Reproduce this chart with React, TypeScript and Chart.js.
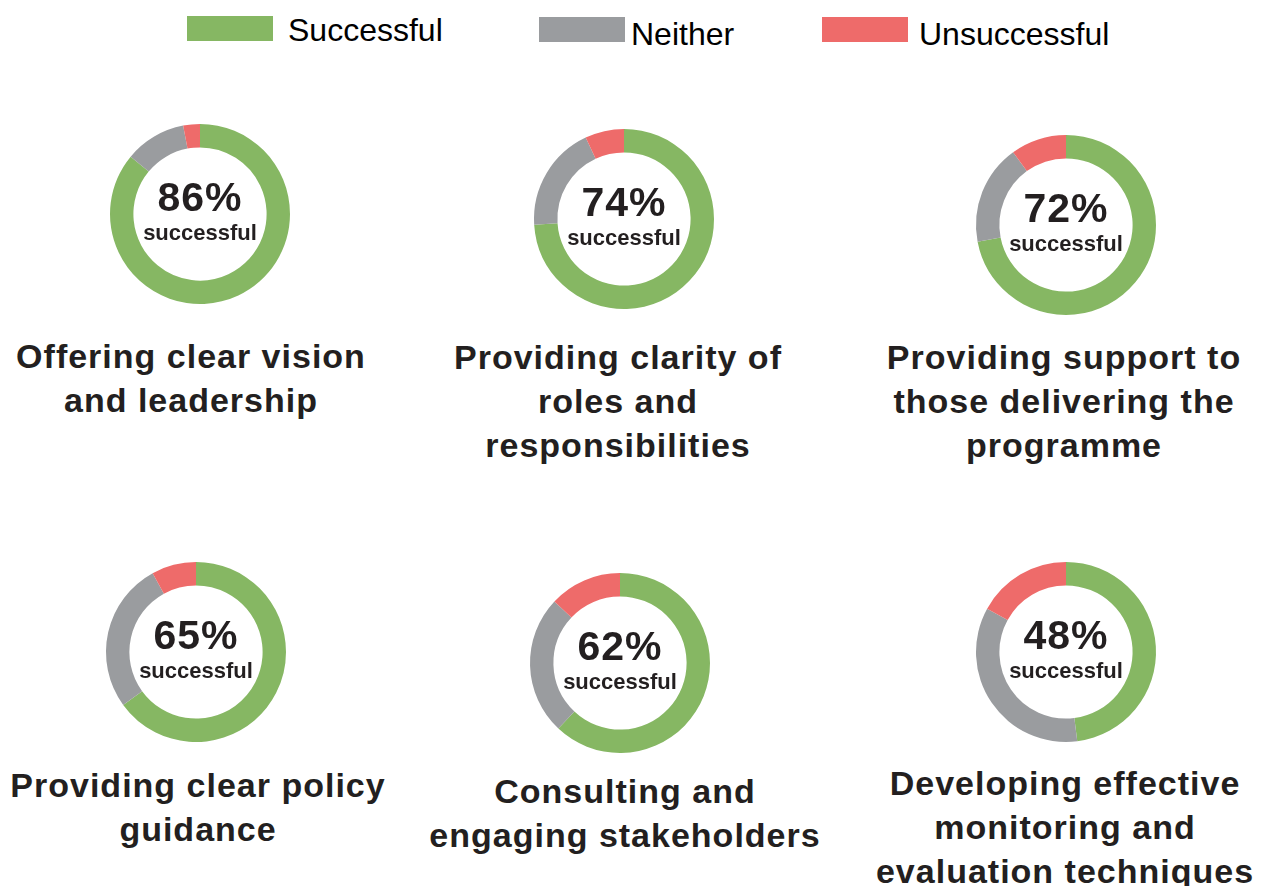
import React, { useEffect, useRef } from "react";
import { Chart, registerables } from "chart.js";

Chart.register(...registerables);

// ---- Data ----
const seriesNames = ["Successful", "Neither", "Unsuccessful"];
const categories = [
  "Offering clear vision\nand leadership",
  "Providing clarity of\nroles and\nresponsibilities",
  "Providing support to\nthose delivering the\nprogramme",
  "Providing clear policy\nguidance",
  "Consulting and\nengaging stakeholders",
  "Developing effective\nmonitoring and\nevaluation techniques",
];
const successful = [86, 74, 72, 65, 62, 48];
const neither = [11, 19, 18, 27, 25, 35];
const unsuccessful = [3, 7, 10, 8, 13, 17];
const centerCaption = "successful";

// ---- Styling / layout ----
const colors = ["#86B763", "#9A9C9F", "#EE6B6A"];
const textColor = "#231F20";
const fontFamily = "'Liberation Sans', Arial, Helvetica, sans-serif";

const donutCenters = [
  { cx: 199.5, cy: 213.5, titleX: 191, titleTop: 334 },
  { cx: 623.5, cy: 219, titleX: 618, titleTop: 335 },
  { cx: 1066, cy: 224.5, titleX: 1064, titleTop: 335 },
  { cx: 195.5, cy: 651.5, titleX: 198, titleTop: 763 },
  { cx: 620, cy: 662.5, titleX: 625, titleTop: 769 },
  { cx: 1066, cy: 651.5, titleX: 1065, titleTop: 761 },
];

const legendLayout = [
  { boxLeft: 187, boxTop: 16, textLeft: 288, textTop: 14 },
  { boxLeft: 539, boxTop: 17, textLeft: 631, textTop: 17.5 },
  { boxLeft: 822, boxTop: 17, textLeft: 919, textTop: 17.5 },
];

const centerTextPlugin = {
  id: "centerText",
  afterDraw(chart: any, _args: any, opts: any) {
    const { ctx, chartArea } = chart;
    const x = (chartArea.left + chartArea.right) / 2;
    const y = (chartArea.top + chartArea.bottom) / 2;
    ctx.save();
    ctx.fillStyle = textColor;
    ctx.textAlign = "center";
    ctx.textBaseline = "alphabetic";
    ctx.font = `bold 41px ${fontFamily}`;
    try { (ctx as any).letterSpacing = "1px"; } catch (e) {}
    ctx.fillText(opts.big, x, y - 3);
    try { (ctx as any).letterSpacing = "0px"; } catch (e) {}
    ctx.font = `bold 22px ${fontFamily}`;
    ctx.fillText(opts.small, x, y + 26);
    ctx.restore();
  },
};

function Donut({ i }: { i: number }) {
  const ref = useRef<HTMLCanvasElement | null>(null);
  const pos = donutCenters[i];
  useEffect(() => {
    if (!ref.current) return;
    const chart = new Chart(ref.current, {
      type: "doughnut",
      data: {
        labels: seriesNames,
        datasets: [
          {
            data: [successful[i], neither[i], unsuccessful[i]],
            backgroundColor: colors,
            borderWidth: 0,
            radius: 90,
            cutout: 74,
          } as any,
        ],
      },
      options: {
        responsive: false,
        animation: false,
        events: [],
        layout: { padding: 0 },
        plugins: {
          legend: { display: false },
          tooltip: { enabled: false },
          centerText: { big: `${successful[i]}%`, small: centerCaption },
        } as any,
      },
      plugins: [centerTextPlugin],
    });
    return () => chart.destroy();
  }, [i]);
  return (
    <canvas
      ref={ref}
      width={200}
      height={200}
      style={{ position: "absolute", left: pos.cx - 100, top: pos.cy - 100, width: 200, height: 200 }}
    />
  );
}

export default function App() {
  return (
    <div
      style={{
        position: "absolute",
        left: 0,
        top: 0,
        width: 1269,
        height: 886,
        background: "#ffffff",
        overflow: "hidden",
        fontFamily,
        color: textColor,
      }}
    >
      {seriesNames.map((name, k) => (
        <React.Fragment key={name}>
          <div
            style={{
              position: "absolute",
              left: legendLayout[k].boxLeft,
              top: legendLayout[k].boxTop,
              width: 86,
              height: 25,
              background: colors[k],
            }}
          />
          <div
            style={{
              position: "absolute",
              left: legendLayout[k].textLeft,
              top: legendLayout[k].textTop,
              fontSize: 32,
              lineHeight: "32px",
              whiteSpace: "pre",
              color: "#000",
            }}
          >
            {name}
          </div>
        </React.Fragment>
      ))}
      {categories.map((title, i) => (
        <React.Fragment key={i}>
          <Donut i={i} />
          <div
            style={{
              position: "absolute",
              left: donutCenters[i].titleX - 250,
              top: donutCenters[i].titleTop,
              width: 500,
              textAlign: "center",
              fontSize: 34,
              fontWeight: 700,
              lineHeight: "44px",
              letterSpacing: "1px",
              whiteSpace: "pre",
            }}
          >
            {title}
          </div>
        </React.Fragment>
      ))}
    </div>
  );
}
